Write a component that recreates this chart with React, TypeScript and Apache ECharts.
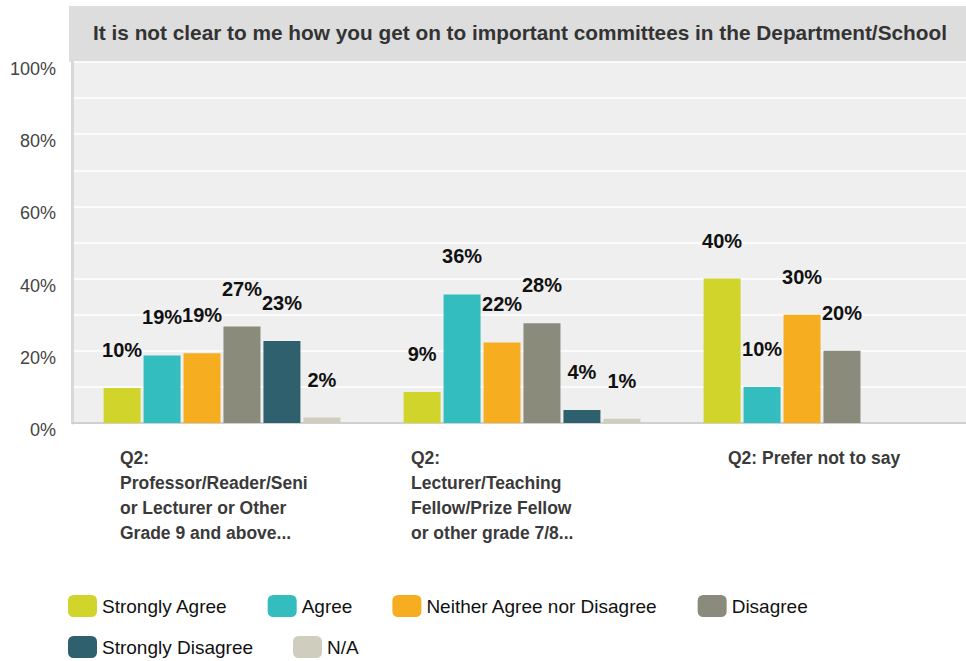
import React, { useEffect, useRef } from "react";
import * as echarts from "echarts";

const categories = [
  "Q2:\nProfessor/Reader/Seni\nor Lecturer or Other\nGrade 9 and above...",
  "Q2:\nLecturer/Teaching\nFellow/Prize Fellow\nor other grade 7/8...",
  "Q2: Prefer not to say",
];
const seriesNames = [
  "Strongly Agree",
  "Agree",
  "Neither Agree nor Disagree",
  "Disagree",
  "Strongly Disagree",
  "N/A",
];
const stronglyAgree = [9.7, 8.6, 40];
const agree = [18.7, 35.6, 10];
const neither = [19.3, 22.3, 30];
const disagree = [26.7, 27.6, 20];
const stronglyDisagree = [22.7, 3.6, null];
const na = [1.5, 1.2, null];
const seriesValues = [stronglyAgree, agree, neither, disagree, stronglyDisagree, na];
const colors = ["#d1d42b", "#33bdbf", "#f6ae20", "#8b8b7b", "#2e606d", "#cfcdbe"];
const yTicks = [0, 20, 40, 60, 80, 100];
const title = "It is not clear to me how you get on to important committees in the Department/School";

export default function App() {
  const ref = useRef<HTMLDivElement>(null);
  useEffect(() => {
    if (!ref.current) return;
    const chart = echarts.init(ref.current, null, { renderer: "svg" });
    const labelStyles = ["a", "b", "c"];
    const xl = { align: "left", fontSize: 17.5, fontWeight: "bold", color: "#3a3a3a", lineHeight: 25 };
    chart.setOption({
      animation: false,
      backgroundColor: "#ffffff",
      textStyle: { fontFamily: "Liberation Sans, Arial, sans-serif" },
      title: {
        text: title,
        left: 515,
        textAlign: "center",
        top: 17,
        textStyle: { fontSize: 20.8, fontWeight: "bold", color: "#333333" },
      },
      graphic: [
        {
          type: "rect",
          z: -10,
          shape: { x: 69, y: 6, width: 910, height: 56 },
          style: { fill: "#dddddd" },
        },
      ],
      grid: {
        left: 72,
        right: 3,
        top: 62,
        bottom: 238,
        show: true,
        backgroundColor: "#efefef",
        borderWidth: 0,
      },
      legend: [
        {
          data: seriesNames.slice(0, 4),
          left: 63,
          top: 590,
          itemWidth: 29,
          itemHeight: 22,
          itemGap: 40,
          icon: "roundRect",
          textStyle: { fontSize: 19, color: "#111111" },
        },
        {
          data: seriesNames.slice(4),
          left: 63,
          top: 631,
          itemWidth: 29,
          itemHeight: 22,
          itemGap: 40,
          icon: "roundRect",
          textStyle: { fontSize: 19, color: "#111111" },
        },
      ],
      xAxis: {
        type: "category",
        data: categories,
        axisLine: { show: true, lineStyle: { color: "#d0d0d0", width: 2 } },
        axisTick: { show: false },
        axisLabel: {
          interval: 0,
          margin: 22,
          formatter: (v: string, i: number) => `{${labelStyles[i]}|${v}}`,
          rich: {
            a: { ...xl, width: 204 },
            b: { ...xl, width: 222 },
            c: { ...xl, width: 188 },
          },
        },
      },
      yAxis: {
        type: "value",
        min: 0,
        max: 100,
        interval: 10,
        axisLine: { show: true, lineStyle: { color: "#d8d8d8", width: 3 } },
        axisTick: { show: false },
        splitLine: { show: true, lineStyle: { color: "#ffffff", width: 1.5 } },
        axisLabel: {
          margin: 16,
          fontSize: 18,
          color: "#444444",
          verticalAlign: "top",
          lineHeight: 14,
          formatter: (v: number) => (yTicks.includes(v) ? `${v}%` : ""),
        },
      },
      series: seriesNames.map((name, i) => ({
        name,
        type: "bar",
        data: seriesValues[i],
        barWidth: 37,
        barGap: "8%",
        itemStyle: { color: colors[i] },
        label: {
          show: true,
          position: "top",
          distance: 28,
          fontSize: 20,
          fontWeight: "bold",
          color: "#111111",
          formatter: (p: any) => `${Math.round(p.value)}%`,
        },
      })),
    });
    return () => chart.dispose();
  }, []);
  return (
    <div style={{ position: "fixed", left: 0, top: 0, width: 966, height: 661, overflow: "hidden" }}>
      <div ref={ref} style={{ width: 975, height: 661 }} />
    </div>
  );
}
